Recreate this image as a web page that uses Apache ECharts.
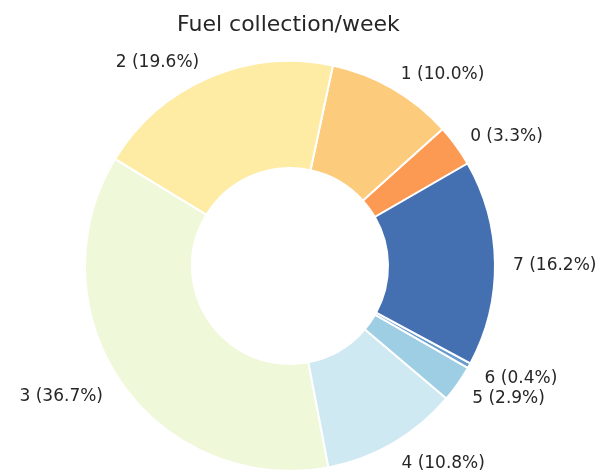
<!DOCTYPE html>
<html>
<head>
<meta charset="utf-8">
<script src="https://cdn.jsdelivr.net/npm/echarts@6/dist/echarts.min.js"></script>
<style>
  html, body { margin: 0; padding: 0; background: #fff; }
  #main { width: 608px; height: 474px; }
</style>
</head>
<body>
<div id="main"></div>
<script>
// fuel collection per week, share of each category (%)
var categories = ['0', '1', '2', '3', '4', '5', '6', '7'];
var shares = [3.3, 10.0, 19.6, 36.7, 10.8, 2.9, 0.4, 16.2];
var colors = ['#fc9a53', '#fdcb7c', '#feeca4', '#f0f8da', '#cfe9f2', '#9ecee3', '#6a9ccd', '#4470b2'];

var myChart = echarts.init(document.getElementById('main'));

var pieData = categories.map(function (c, i) {
    return { name: c, value: shares[i], itemStyle: { color: colors[i] } };
});

var option = {
    backgroundColor: '#fff',
    animation: false,
    title: {
        text: 'Fuel collection/week',
        left: 172,
        top: 9,
        textStyle: {
            fontFamily: 'DejaVu Sans',
            fontWeight: 'normal',
            fontSize: 22,
            color: '#262626'
        }
    },
    series: [{
        type: 'pie',
        center: [290, 266],
        radius: [98, 205],
        startAngle: 30,
        clockwise: false,
        avoidLabelOverlap: false,
        itemStyle: {
            borderColor: '#fff',
            borderWidth: 2
        },
        label: {
            show: true,
            position: 'outside',
            distanceToLabelLine: 0,
            offset: [-2, 3],
            formatter: function (p) {
                return p.name + ' (' + p.value.toFixed(1) + '%)';
            },
            fontFamily: 'DejaVu Sans',
            fontSize: 17,
            color: '#262626'
        },
        labelLine: {
            show: false,
            length: 20,
            length2: 0
        },
        emphasis: { disabled: true },
        data: pieData
    }]
};

myChart.setOption(option);
window.addEventListener('resize', function () {
    myChart.resize();
});
</script>
</body>
</html>
